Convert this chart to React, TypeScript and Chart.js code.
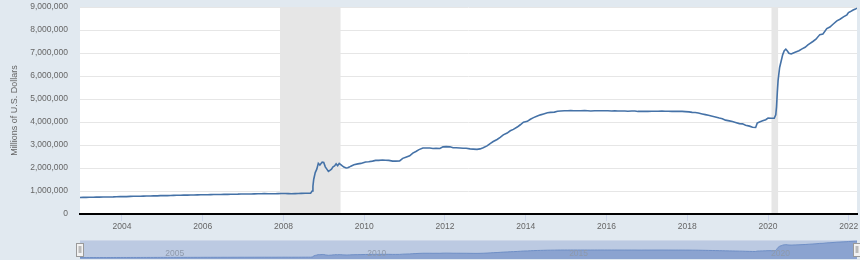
import React, { useEffect, useRef } from "react";
import { Chart, registerables } from "chart.js";

Chart.register(...registerables);

const FONT = "'Liberation Sans', Arial, sans-serif";

// Weekly-level readings (Millions of U.S. Dollars), sampled roughly monthly
const dates: string[] = [
  "2002-12-18",
  "2003-01-15", "2003-02-12", "2003-03-12", "2003-04-16", "2003-05-14", "2003-06-11", "2003-07-16", "2003-08-13", "2003-09-17", "2003-10-15", "2003-11-12", "2003-12-17",
  "2004-01-14", "2004-02-11", "2004-03-17", "2004-04-14", "2004-05-12", "2004-06-16", "2004-07-14", "2004-08-11", "2004-09-15", "2004-10-13", "2004-11-17", "2004-12-15",
  "2005-01-12", "2005-02-16", "2005-03-16", "2005-04-13", "2005-05-11", "2005-06-15", "2005-07-13", "2005-08-17", "2005-09-14", "2005-10-12", "2005-11-16", "2005-12-14",
  "2006-01-11", "2006-02-15", "2006-03-15", "2006-04-12", "2006-05-17", "2006-06-14", "2006-07-12", "2006-08-16", "2006-09-13", "2006-10-11", "2006-11-15", "2006-12-13",
  "2007-01-17", "2007-02-14", "2007-03-14", "2007-04-11", "2007-05-16", "2007-06-13", "2007-07-11", "2007-08-15", "2007-09-12", "2007-10-17", "2007-11-14", "2007-12-12",
  "2008-01-16", "2008-02-13", "2008-03-12", "2008-04-16", "2008-05-14", "2008-06-11", "2008-07-16", "2008-08-13", "2008-09-03", "2008-09-17", "2008-09-24", "2008-10-01",
  "2008-10-15", "2008-10-29", "2008-11-12", "2008-11-26", "2008-12-17", "2008-12-31",
  "2009-01-14", "2009-01-28", "2009-02-11", "2009-02-25", "2009-03-11", "2009-03-25", "2009-04-08", "2009-04-22", "2009-05-06", "2009-05-20", "2009-06-03", "2009-06-17",
  "2009-07-01", "2009-07-22", "2009-08-05", "2009-08-19", "2009-09-02", "2009-09-30", "2009-11-04", "2009-12-02", "2009-12-30",
  "2010-01-13", "2010-02-10", "2010-03-17", "2010-04-14", "2010-05-12", "2010-06-16", "2010-07-14", "2010-08-11", "2010-09-15", "2010-10-13", "2010-11-17", "2010-12-15",
  "2011-01-12", "2011-02-16", "2011-03-16", "2011-04-13", "2011-05-11", "2011-06-15", "2011-07-13", "2011-08-17", "2011-09-14", "2011-10-12", "2011-11-16", "2011-12-14",
  "2012-01-11", "2012-02-15", "2012-03-14", "2012-04-11", "2012-05-16", "2012-06-13", "2012-07-11", "2012-08-15", "2012-09-12", "2012-10-17", "2012-11-14", "2012-12-12",
  "2013-01-16", "2013-02-13", "2013-03-13", "2013-04-17", "2013-05-15", "2013-06-12", "2013-07-17", "2013-08-14", "2013-09-11", "2013-10-16", "2013-11-13", "2013-12-11",
  "2014-01-15", "2014-02-12", "2014-03-12", "2014-04-16", "2014-05-14", "2014-06-11", "2014-07-16", "2014-08-13", "2014-09-17", "2014-10-15", "2014-11-12", "2014-12-17",
  "2015-01-14", "2015-02-11", "2015-03-11", "2015-04-15", "2015-05-13", "2015-06-17", "2015-07-15", "2015-08-12", "2015-09-16", "2015-10-14", "2015-11-11", "2015-12-16",
  "2016-01-13", "2016-02-17", "2016-03-16", "2016-04-13", "2016-05-11", "2016-06-15", "2016-07-13", "2016-08-17", "2016-09-14", "2016-10-12", "2016-11-16", "2016-12-14",
  "2017-01-11", "2017-02-15", "2017-03-15", "2017-04-12", "2017-05-17", "2017-06-14", "2017-07-12", "2017-08-16", "2017-09-13", "2017-10-11", "2017-11-15", "2017-12-13",
  "2018-01-17", "2018-02-14", "2018-03-14", "2018-04-11", "2018-05-16", "2018-06-13", "2018-07-11", "2018-08-15", "2018-09-12", "2018-10-17", "2018-11-14", "2018-12-12",
  "2019-01-16", "2019-02-13", "2019-03-13", "2019-04-17", "2019-05-15", "2019-06-12", "2019-07-17", "2019-08-14", "2019-09-11", "2019-09-25", "2019-10-16", "2019-11-13", "2019-12-11",
  "2020-01-01", "2020-01-29", "2020-02-26", "2020-03-11", "2020-03-18", "2020-03-25", "2020-04-01", "2020-04-15", "2020-04-29", "2020-05-13", "2020-05-27", "2020-06-10",
  "2020-06-24", "2020-07-08", "2020-07-29", "2020-08-12", "2020-09-02", "2020-10-07", "2020-11-04", "2020-12-02", "2020-12-30",
  "2021-01-13", "2021-02-10", "2021-03-10", "2021-04-14", "2021-05-12", "2021-06-16", "2021-07-14", "2021-08-11", "2021-09-15", "2021-10-13", "2021-11-17", "2021-12-15", "2021-12-29",
  "2022-01-12", "2022-02-09", "2022-03-02", "2022-03-16",
];

const values: number[] = [
  719542,
  722000, 723000, 727000, 730000, 733000, 735000, 737000, 740000, 742000, 745000, 752000, 755000,
  760000, 757000, 765000, 770000, 772000, 773000, 778000, 780000, 785000, 787000, 790000, 800000,
  803000, 800000, 805000, 810000, 815000, 818000, 820000, 822000, 825000, 827000, 830000, 835000,
  840000, 838000, 842000, 845000, 848000, 850000, 853000, 855000, 857000, 860000, 862000, 868000,
  870000, 868000, 872000, 876000, 880000, 882000, 885000, 880000, 878000, 880000, 885000, 890000,
  892000, 885000, 880000, 885000, 890000, 898000, 903000, 905000, 905000, 1000000, 1200000, 1500000,
  1800000, 1950000, 2200000, 2130000, 2256000, 2240000,
  2050000, 1950000, 1850000, 1900000, 1950000, 2050000, 2090000, 2180000, 2100000, 2200000, 2150000, 2090000,
  2040000, 2000000, 2010000, 2040000, 2080000, 2140000, 2180000, 2200000, 2240000,
  2260000, 2270000, 2300000, 2330000, 2330000, 2350000, 2340000, 2330000, 2300000, 2300000, 2310000, 2420000,
  2470000, 2530000, 2650000, 2720000, 2800000, 2870000, 2870000, 2870000, 2850000, 2860000, 2850000, 2920000,
  2930000, 2920000, 2880000, 2880000, 2870000, 2860000, 2860000, 2830000, 2820000, 2810000, 2830000, 2880000,
  2960000, 3060000, 3150000, 3240000, 3330000, 3440000, 3520000, 3620000, 3680000, 3780000, 3880000, 3990000,
  4030000, 4120000, 4190000, 4260000, 4310000, 4350000, 4400000, 4420000, 4430000, 4470000, 4480000, 4490000,
  4490000, 4500000, 4490000, 4490000, 4490000, 4500000, 4490000, 4480000, 4490000, 4490000, 4490000, 4490000,
  4490000, 4480000, 4490000, 4480000, 4480000, 4480000, 4470000, 4480000, 4480000, 4460000, 4460000, 4470000,
  4460000, 4470000, 4470000, 4470000, 4480000, 4470000, 4470000, 4460000, 4460000, 4460000, 4460000, 4450000,
  4440000, 4420000, 4410000, 4390000, 4350000, 4320000, 4290000, 4250000, 4220000, 4170000, 4140000, 4080000,
  4050000, 4020000, 3980000, 3930000, 3920000, 3860000, 3820000, 3770000, 3760000, 3950000, 4000000, 4050000, 4100000,
  4170000, 4160000, 4160000, 4310000, 4670000, 5300000, 5810000, 6370000, 6650000, 6930000, 7100000, 7170000,
  7090000, 6990000, 6960000, 6990000, 7030000, 7100000, 7180000, 7250000, 7360000,
  7410000, 7500000, 7600000, 7800000, 7830000, 8060000, 8130000, 8250000, 8400000, 8470000, 8580000, 8660000, 8760000,
  8790000, 8870000, 8910000, 8950000,
];

const xStart = "2002-12-18";
const xEnd = "2022-03-16";
const xTickYears: number[] = [2004, 2006, 2008, 2010, 2012, 2014, 2016, 2018, 2020, 2022];
const yTicks: number[] = [0, 1000000, 2000000, 3000000, 4000000, 5000000, 6000000, 7000000, 8000000, 9000000];
const navigatorYears: number[] = [2005, 2010, 2015, 2020];
const recessionStarts: string[] = ["2007-12-01", "2020-02-01"];
const recessionEnds: string[] = ["2009-06-01", "2020-04-01"];
const yTitle = "Millions of U.S. Dollars";

function toYear(s: string): number {
  const [y, m, d] = s.split("-").map(Number);
  const start = Date.UTC(y, 0, 1);
  const end = Date.UTC(y + 1, 0, 1);
  return y + (Date.UTC(y, m - 1, d) - start) / (end - start);
}

const BG = "#e1e9f0";

export default function App() {
  const mainRef = useRef<HTMLCanvasElement | null>(null);
  const navRef = useRef<HTMLCanvasElement | null>(null);

  useEffect(() => {
    const points = dates.map((d, i) => ({ x: toYear(d), y: values[i] }));
    const xmin = toYear(xStart);
    const xmax = toYear(xEnd);

    const mainPlugin = {
      id: "mainBg",
      beforeDraw(chart: any) {
        const { ctx, chartArea, scales } = chart;
        ctx.save();
        ctx.fillStyle = "#ffffff";
        ctx.fillRect(chartArea.left, chartArea.top, chartArea.right - chartArea.left, chartArea.bottom - chartArea.top);
        ctx.fillStyle = "#e6e6e6";
        for (let i = 0; i < recessionStarts.length; i++) {
          const x1 = scales.x.getPixelForValue(toYear(recessionStarts[i]));
          const x2 = scales.x.getPixelForValue(toYear(recessionEnds[i]));
          ctx.fillRect(x1, chartArea.top, x2 - x1, chartArea.bottom - chartArea.top);
        }
        ctx.restore();
      },
    };

    const main = new Chart(mainRef.current as HTMLCanvasElement, {
      type: "line",
      data: {
        datasets: [
          {
            data: points,
            borderColor: "#4572a7",
            borderWidth: 1.6,
            pointRadius: 0,
            fill: false,
            tension: 0,
          },
        ],
      },
      options: {
        animation: false,
        responsive: false,
        events: [],
        layout: { padding: { left: 0, right: 3, top: 7, bottom: 0 } },
        plugins: { legend: { display: false }, tooltip: { enabled: false } },
        scales: {
          x: {
            type: "linear",
            min: xmin,
            max: xmax,
            afterBuildTicks: (s: any) => {
              s.ticks = xTickYears.map((v) => ({ value: v }));
            },
            afterFit: (s: any) => {
              s.height = 18;
              s.paddingLeft = 0;
              s.paddingRight = 0;
              s.paddingTop = 0;
              s.paddingBottom = 0;
            },
            grid: { drawOnChartArea: false, drawTicks: true, tickLength: 7, color: "#ccd6eb", lineWidth: 1 },
            border: { display: true, color: "#000000", width: 2 },
            ticks: {
              color: "#666666",
              font: { family: FONT, size: 8.5 },
              padding: 1,
              maxRotation: 0,
              autoSkip: false,
              callback: (v: any) => String(v),
            },
          },
          y: {
            min: 0,
            max: 9000000,
            afterBuildTicks: (s: any) => {
              s.ticks = yTicks.map((v) => ({ value: v }));
            },
            afterFit: (s: any) => {
              s.width = 80;
              s.paddingLeft = 0;
              s.paddingRight = 0;
              s.paddingTop = 0;
              s.paddingBottom = 0;
            },
            grid: { color: "#e6e6e6", drawTicks: false, lineWidth: 1 },
            border: { display: false },
            ticks: {
              color: "#666666",
              font: { family: FONT, size: 8.5 },
              padding: 12,
              callback: (v: any) => Number(v).toLocaleString("en-US"),
            },
            title: {
              display: true,
              text: yTitle,
              color: "#666666",
              font: { family: FONT, size: 9 },
              padding: { top: 9, bottom: 0 },
            },
          },
        },
      },
      plugins: [mainPlugin],
    } as any);

    const navPlugin = {
      id: "navDecor",
      beforeDraw(chart: any) {
        const { ctx, chartArea } = chart;
        ctx.save();
        ctx.fillStyle = "#bccae2";
        ctx.fillRect(chartArea.left, chartArea.top, chartArea.right - chartArea.left, chartArea.bottom - chartArea.top);
        ctx.fillStyle = "#cdd7e8";
        ctx.fillRect(chartArea.left, chartArea.top, chartArea.right - chartArea.left, 1);
        ctx.restore();
      },
      afterDraw(chart: any) {
        const { ctx, chartArea, scales } = chart;
        ctx.save();
        ctx.font = `8.5px ${FONT}`;
        ctx.fillStyle = "#8e99ab";
        ctx.textAlign = "left";
        ctx.textBaseline = "middle";
        const midY = (chartArea.top + chartArea.bottom) / 2 + 4;
        navigatorYears.forEach((yr) => {
          const x = scales.x.getPixelForValue(yr);
          ctx.fillText(String(yr), x + 3, midY);
        });
        const hy = chartArea.top + 3;
        const hh = 13;
        [chartArea.left, chartArea.right].forEach((hx) => {
          ctx.fillStyle = "#f2f2f2";
          ctx.strokeStyle = "#999999";
          ctx.lineWidth = 1;
          ctx.fillRect(Math.round(hx) - 3.5, hy, 7, hh);
          ctx.strokeRect(Math.round(hx) - 3.5, hy + 0.5, 7, hh);
          ctx.fillStyle = "#bbbbbb";
          ctx.fillRect(Math.round(hx) - 1.5, hy + 3, 3, hh - 6);
        });
        ctx.restore();
      },
    };

    const nav = new Chart(navRef.current as HTMLCanvasElement, {
      type: "line",
      data: {
        datasets: [
          {
            data: points,
            borderColor: "#6f8fc6",
            borderWidth: 1,
            backgroundColor: "#8ba3d0",
            fill: "origin",
            pointRadius: 0,
            tension: 0,
          },
        ],
      },
      options: {
        animation: false,
        responsive: false,
        events: [],
        layout: { padding: { left: 80, right: 3, top: 8, bottom: 1 } },
        plugins: { legend: { display: false }, tooltip: { enabled: false } },
        scales: {
          x: { type: "linear", min: xmin, max: xmax, display: false },
          y: { min: 0, max: 9500000, display: false },
        },
      },
      plugins: [navPlugin],
    } as any);

    return () => {
      main.destroy();
      nav.destroy();
    };
  }, []);

  return (
    <div
      style={{
        position: "absolute",
        left: 0,
        top: 0,
        width: 860,
        height: 260,
        background: BG,
        overflow: "hidden",
      }}
    >
      <canvas
        ref={mainRef}
        width={860}
        height={232}
        style={{ position: "absolute", left: 0, top: 0, width: 860, height: 232, display: "block" }}
      />
      <canvas
        ref={navRef}
        width={860}
        height={28}
        style={{ position: "absolute", left: 0, top: 232, width: 860, height: 28, display: "block" }}
      />
    </div>
  );
}
